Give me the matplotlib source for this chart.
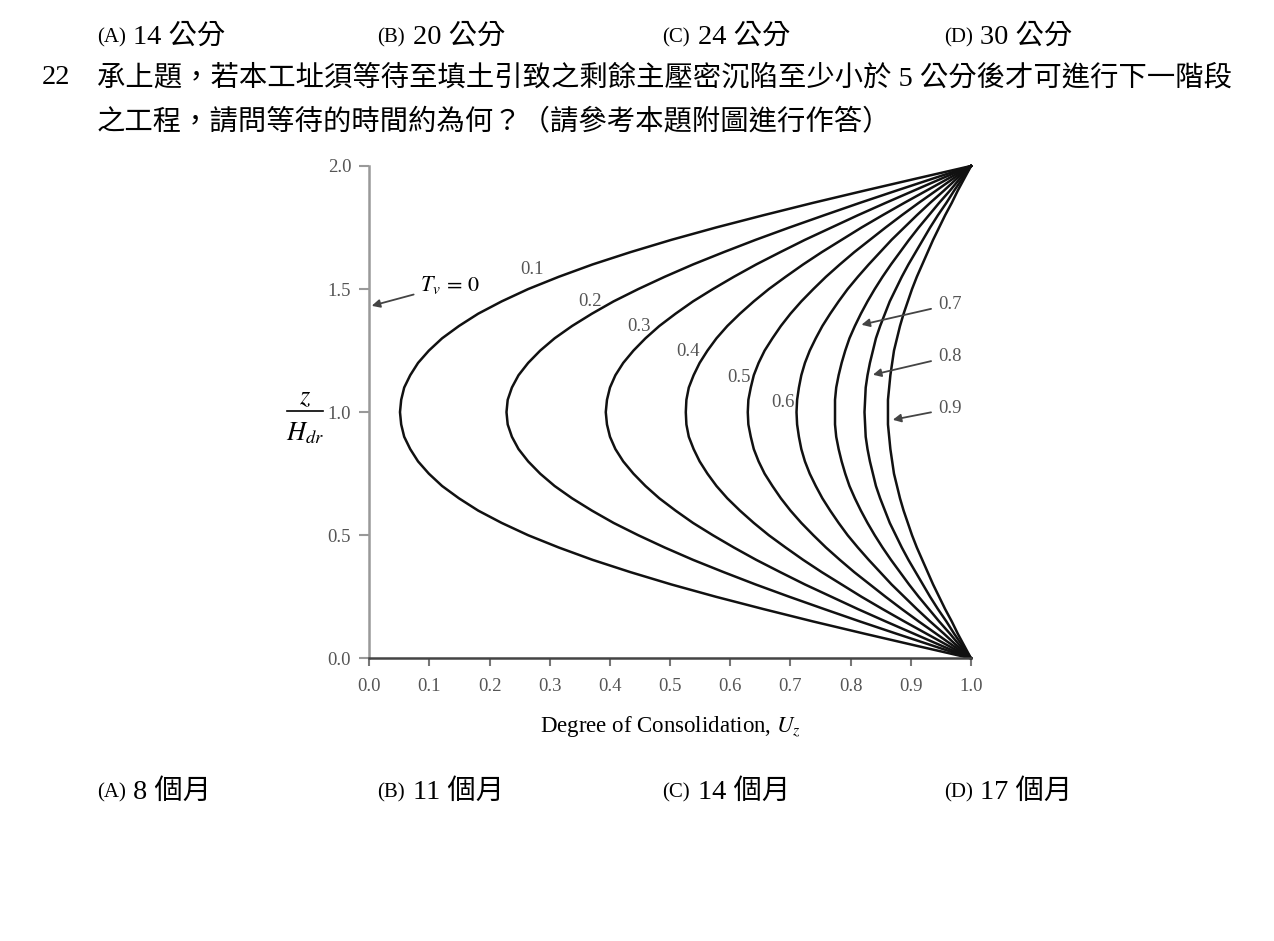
import matplotlib
matplotlib.use("Agg")
import matplotlib.pyplot as plt
from matplotlib.lines import Line2D

plt.rcParams['mathtext.fontset'] = 'stix'

W, H = 1274, 941

# z/Hdr for the lower half, curves are mirrored about z/Hdr = 1
z_half = [0.0, 0.05, 0.1, 0.15, 0.2, 0.25, 0.3, 0.35, 0.4, 0.45, 0.5,
          0.55, 0.6, 0.65, 0.7, 0.75, 0.8, 0.85, 0.9, 0.95, 1.0]

# degree of consolidation Uz
tv_labels = ["0.1", "0.2", "0.3", "0.4", "0.5", "0.6", "0.7", "0.8", "0.9"]
uz_01 = [1.0, 0.911, 0.823, 0.737, 0.655, 0.576, 0.502, 0.434, 0.371, 0.315, 0.264,
         0.220, 0.181, 0.149, 0.121, 0.099, 0.081, 0.068, 0.058, 0.053, 0.051]
uz_02 = [1.0, 0.938, 0.876, 0.815, 0.756, 0.698, 0.642, 0.589, 0.538, 0.491, 0.447,
         0.406, 0.370, 0.337, 0.308, 0.284, 0.264, 0.248, 0.237, 0.230, 0.228]
uz_03 = [1.0, 0.952, 0.905, 0.858, 0.812, 0.768, 0.724, 0.683, 0.643, 0.606, 0.571,
         0.538, 0.509, 0.482, 0.459, 0.439, 0.422, 0.409, 0.400, 0.395, 0.393]
uz_04 = [1.0, 0.963, 0.926, 0.889, 0.853, 0.818, 0.785, 0.752, 0.721, 0.692, 0.664,
         0.639, 0.616, 0.595, 0.577, 0.562, 0.549, 0.539, 0.531, 0.527, 0.526]
uz_05 = [1.0, 0.971, 0.942, 0.913, 0.885, 0.858, 0.832, 0.806, 0.782, 0.759, 0.738,
         0.718, 0.700, 0.684, 0.670, 0.657, 0.647, 0.639, 0.634, 0.630, 0.629]
uz_06 = [1.0, 0.977, 0.955, 0.932, 0.910, 0.889, 0.868, 0.849, 0.830, 0.812, 0.795,
         0.780, 0.766, 0.753, 0.742, 0.732, 0.724, 0.718, 0.714, 0.711, 0.710]
uz_07 = [1.0, 0.982, 0.965, 0.947, 0.930, 0.913, 0.897, 0.882, 0.867, 0.853, 0.840,
         0.828, 0.817, 0.807, 0.798, 0.791, 0.785, 0.780, 0.776, 0.774, 0.774]
uz_08 = [1.0, 0.986, 0.972, 0.959, 0.945, 0.932, 0.920, 0.908, 0.896, 0.885, 0.875,
         0.865, 0.857, 0.849, 0.842, 0.837, 0.832, 0.828, 0.825, 0.824, 0.823]
uz_09 = [1.0, 0.989, 0.978, 0.968, 0.957, 0.947, 0.937, 0.928, 0.919, 0.910, 0.902,
         0.895, 0.888, 0.882, 0.877, 0.872, 0.869, 0.866, 0.864, 0.862, 0.862]
curves = [uz_01, uz_02, uz_03, uz_04, uz_05, uz_06, uz_07, uz_08, uz_09]

xticks = [0.0, 0.1, 0.2, 0.3, 0.4, 0.5, 0.6, 0.7, 0.8, 0.9, 1.0]
yticks = [0.0, 0.5, 1.0, 1.5, 2.0]

top_options = ["14 公分", "20 公分", "24 公分", "30 公分"]
bottom_options = ["8 個月", "11 個月", "14 個月", "17 個月"]
letters = ["(A)", "(B)", "(C)", "(D)"]
question_l1 = "承上題，若本工址須等待至填土引致之剩餘主壓密沉陷至少小於 5 公分後才可進行下一階段"
question_l2 = "之工程，請問等待的時間約為何？（請參考本題附圖進行作答）"

font = ['Liberation Serif', 'Noto Sans CJK TC']
gray = '#555555'

fig = plt.figure(figsize=(W / 100, H / 100), dpi=100)


def ftext(px, py, s, **kw):
    fig.text(px / W, 1 - py / H, s, **kw)


# question text
opt_x = [97, 377, 662, 944]
for lx, let, opt in zip(opt_x, letters, top_options):
    ftext(lx, 38, let, family=font, fontsize=15, va='center')
    ftext(lx + 36, 37, opt, family=font, fontsize=20.4, va='center')
ftext(42, 78, "22", family=font, fontsize=20.4, va='center')
ftext(97, 78, question_l1, family=font, fontsize=20.4, va='center')
ftext(97, 123, question_l2, family=font, fontsize=20.4, va='center')
for lx, let, opt in zip(opt_x, letters, bottom_options):
    ftext(lx, 793, let, family=font, fontsize=15, va='center')
    ftext(lx + 36, 792, opt, family=font, fontsize=20.4, va='center')

# chart
ax = fig.add_axes([369.3 / W, 1 - 658.3 / H, 601.7 / W, 492.3 / H])
for uz in curves:
    zz = z_half + [2.0 - z for z in z_half[-2::-1]]
    uu = uz + uz[-2::-1]
    ax.plot(uu, zz, color='#111111', lw=1.8, clip_on=False, solid_joinstyle='round')

ax.set_xlim(0, 1)
ax.set_ylim(0, 2)
ax.set_xticks(xticks)
ax.set_yticks(yticks)
ax.set_xticklabels([f"{v:.1f}" for v in xticks], family='Liberation Serif', fontsize=13.5, color=gray)
ax.set_yticklabels([f"{v:.1f}" for v in yticks], family='Liberation Serif', fontsize=13.5, color=gray)
ax.tick_params(axis='x', direction='out', length=6, width=1.5, color='#777777', pad=8)
ax.tick_params(axis='y', direction='out', length=7, width=1.5, color='#999999', pad=6)
ax.spines['top'].set_visible(False)
ax.spines['right'].set_visible(False)
ax.spines['left'].set_color('#999999')
ax.spines['left'].set_linewidth(1.8)
ax.spines['bottom'].set_color('#444444')
ax.spines['bottom'].set_linewidth(1.8)

ax.set_xlabel(r"Degree of Consolidation, $U_z$", family='Liberation Serif', fontsize=16.5, labelpad=14)

# y label z / H_dr stacked as a fraction
ftext(305, 397, r"$z$", fontsize=19, ha='center', va='center')
ftext(305, 433, r"$H_{dr}$", fontsize=19, ha='center', va='center')
fig.add_artist(Line2D([287 / W, 323 / W], [1 - 411 / H, 1 - 411 / H], color='black', lw=1.2))

# curve labels
label_pos = [(0.270, 1.580), (0.367, 1.449), (0.448, 1.347), (0.529, 1.245),
             (0.614, 1.139), (0.687, 1.041)]
for (lx, ly), lab in zip(label_pos, tv_labels[:6]):
    ax.text(lx, ly, lab, family='Liberation Serif', fontsize=13.5, color=gray,
            ha='center', va='center')

arrow_kw = dict(arrowstyle='-|>', color='#444444', lw=1.3, mutation_scale=12, shrinkA=3, shrinkB=0)
for lab, tip, ty in zip(tv_labels[6:], [(0.818, 1.355), (0.837, 1.152), (0.870, 0.969)],
                        [1.437, 1.225, 1.014]):
    ax.annotate(lab, xy=tip, xytext=(0.945, ty), family='Liberation Serif', fontsize=13.5,
                color=gray, ha='left', va='center', arrowprops=arrow_kw, annotation_clip=False)

ax.annotate(r"$T_v\,=\,0$", xy=(0.004, 1.432), xytext=(0.085, 1.518), fontsize=16,
            ha='left', va='center', arrowprops=arrow_kw)

fig.savefig("out.png", dpi=100)
